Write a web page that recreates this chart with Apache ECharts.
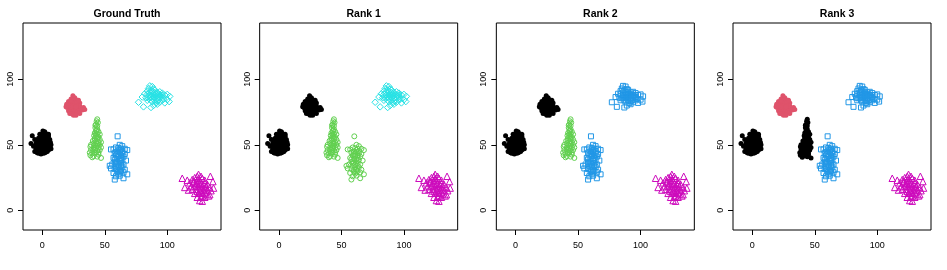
<!DOCTYPE html>
<html>
<head>
<meta charset="utf-8">
<style>html,body{margin:0;padding:0;background:#fff;}#c{width:947px;height:270px;}</style>
<script src="https://cdn.jsdelivr.net/npm/echarts@6/dist/echarts.min.js"></script>
</head>
<body>
<div id="c"></div>
<script>
// Panel titles and tick labels
var panelTitles = ['Ground Truth', 'Rank 1', 'Rank 2', 'Rank 3'];
var tickValues = [0, 50, 100];

// Point clouds (same positions in every panel)
var clusterA = [[-5,45],[-4,44],[-3,43.5],[-2,44],[-1,43],[0,44],[1,43.5],[2,44],[3,44.5],[4,45],[5,46],
  [-5,47],[-3,46],[-1,46],[1,46],[3,47],[5,48],[6,49],[-4,49],[-2,48],[0,48],[2,48.5],[4,49.5],
  [-5,51],[-3,50],[-1,50],[1,50.5],[3,51],[5,51],[6.5,52],[-4,53],[-2,52],[0,52.5],[2,53],[4,53.5],[6,54],
  [-3,55],[-1,55],[1,55.5],[3,56],[5,56.5],[-1,57.5],[1,58],[3,58.5],[0.5,60.5],[-8,57],[-9,51],[-7,49],[5,58],[-6,54],
  [7,50],[7,47],[-6,45],[2,60],[-2,58]];
var clusterB = [[24.5,87.5],[26,86],[23,85],[27,84.5],[25,84],[21,83],[23,82.5],[26,82],[28,82.5],[30,82],[19.5,81],
  [22,80.5],[24,80],[26,80],[28,80],[30,79.5],[20,78.5],[22,78],[24,78],[26,77.5],[28,78],[31,78],[33,78.5],
  [21,76],[23,76],[25,75.5],[27,76],[29,76],[32,76.5],[22,74],[24,73.5],[26,74],[28,74.5],[25,72.5],[23,79],[27,79],[21,80],
  [29,84],[19,79],[34,77],[30,74],[27,72.5]];
var clusterC = [[44,69.5],[43.5,68],[44.5,67],[43,65.5],[44,64.5],[42.5,63],[44,62],[43,60.5],[45,60],[42,59],[44,58.5],
  [46,58],[41.5,57],[43,56.5],[45,56],[42,55],[44,54.5],[46,54],[40.5,53],[43,52.5],[45,52],[47,52],[41,51],[39,50],
  [42,50],[44,49.5],[46,50],[38.5,48.5],[41,48],[43,47.5],[45,48],[47,48],[39,46],[42,46],[44,45.5],[46,46],[38,44],
  [40,43.5],[42,44],[45,44],[38.5,42],[41,41.5],[44,41],[47,40],[40,40.5],
  [43,58],[44,56],[42,53.5],[44,51],[43,49],[41,46.5],[43,44],[45,42.5],[42.5,65],[43.5,61]];
var clusterD = [[60.3,56.5],[62,50],[64,49],[59,48],[61,47.5],[63,47],[57,46.5],[66,47],[68,46],[55,46.5],[60,45],
  [62,44.5],[64,45],[58,44],[66,43],[59,42],[61,41.5],[63,42],[65,41],[57,40],[60,39.5],[62,39],[64,38.5],[67,38],
  [58,37],[60,36.5],[63,36],[65,35],[56,35],[54,34],[59,34],[61,33],[64,33],[55,32],[58,31.5],[62,31],[60,29.5],
  [63,30],[57,28.5],[61,28],[65,29],[59,26],[62,26.5],[58,23.5],[65,24.5],[68,27.5],[66,31],[61,43],[63,40],
  [62,46],[60,43],[62,37.5],[61,35],[63,34],[60,31],[62,29],[58,39],[64,43.5],[59,36]];
var clusterE = [[86,95],[88,94.5],[85,93],[87,92],[89,92.5],[84,91],[86,90],[88,90.5],[90,90],[92,90],[94,90.5],
  [96,89.5],[82,89],[84,88.5],[86,88],[88,88],[90,88],[92,87.5],[94,88],[98,88],[100,88.5],[80,86.5],[83,86],[86,86],
  [88,85.5],[90,86],[92,85.5],[94,86],[96,86.5],[102,87],[77,82.5],[84,84],[87,84],[90,84],[93,84],[96,84],[100,84.5],
  [81,79],[87,78.5],[91,82],[94,82.5],[98,82],[89,80],[92,81],[101.5,83],
  [89,89],[91,89],[93,88.5],[87,87],[89,86.5],[91,87],[95,87],[97,85],[85,85.5],[88,83],[92,83.5],[96,88],[90,92]];
var clusterF = [[125,27.5],[124,26],[127,26],[122,25],[128,24.5],[112,24.5],[116,23],[120,23.5],[124,23],[126,22.5],
  [130,23],[134.5,26],[136.5,22],[118,21],[121,21],[124,20.5],[127,20.5],[130,21],[132,20],[114,17.5],[119,18],
  [122,18.5],[125,18],[128,18],[131,18],[134,17.5],[137,17],[117,15.5],[120,16],[123,16],[126,15.5],[129,15.5],
  [132,15],[135,15],[122,13],[125,13],[128,13],[131,12.5],[134,12],[124,10],[127,10.5],[130,10],[126,7.5],[128,7],[133,11],
  [126,20],[129,19.5],[123,19.5],[127,17],[130,16.5],[124,14.5],[127,14],[130,13.5],[128,11],[125,24.5],[121,22]];
var clusters = [clusterA, clusterB, clusterC, clusterD, clusterE, clusterF];

// Label (style index 1..6) assigned to each cluster in each panel
var labelsGroundTruth = [1, 2, 3, 4, 5, 6];
var labelsRank1 = [1, 1, 3, 3, 5, 6];
var labelsRank2 = [1, 1, 3, 4, 4, 6];
var labelsRank3 = [1, 2, 1, 4, 4, 6];
var panelLabels = [labelsGroundTruth, labelsRank1, labelsRank2, labelsRank3];

var styles = {
  1: {symbol: 'circle', size: 5, color: '#000000', filled: true},
  2: {symbol: 'circle', size: 5, color: '#DF536B', filled: true},
  3: {symbol: 'circle', size: 5, color: '#61D04F', filled: false},
  4: {symbol: 'rect', size: 5, color: '#2297E6', filled: false},
  5: {symbol: 'diamond', size: 6.5, color: '#28E2E5', filled: false},
  6: {symbol: 'triangle', size: 6.5, color: '#CD0BBC', filled: false}
};

var font = "'Liberation Sans', Arial, Helvetica, sans-serif";
var gridLeft0 = 23, gridStep = 236.67, gridW = 198, gridTop = 23, gridH = 207;
var grids = [], xAxes = [], yAxes = [], titles = [], series = [];
for (var p = 0; p < 4; p++) {
  var left = gridLeft0 + gridStep * p;
  grids.push({left: left, top: gridTop, width: gridW, height: gridH, show: true,
    borderColor: '#000', borderWidth: 1, backgroundColor: 'transparent'});
  titles.push({text: panelTitles[p], left: left + gridW / 2, top: 4, textAlign: 'center',
    textStyle: {fontFamily: font, fontSize: 10.5, fontWeight: 'bold', color: '#000'}});
  xAxes.push({type: 'value', gridIndex: p, min: -15.4, max: 143, splitLine: {show: false},
    axisLine: {show: false, onZero: false},
    axisTick: {show: true, inside: false, length: 5, customValues: tickValues, lineStyle: {color: '#000'}},
    axisLabel: {customValues: tickValues, fontFamily: font, fontSize: 9, color: '#000', margin: 11}});
  yAxes.push({type: 'value', gridIndex: p, min: -15, max: 143, splitLine: {show: false},
    axisLine: {show: false, onZero: false},
    axisTick: {show: true, inside: false, length: 5, customValues: tickValues, lineStyle: {color: '#000'}},
    axisLabel: {customValues: tickValues, rotate: 90, fontFamily: font, fontSize: 9, color: '#000', margin: 8}});
  for (var c = 0; c < clusters.length; c++) {
    var st = styles[panelLabels[p][c]];
    series.push({type: 'scatter', xAxisIndex: p, yAxisIndex: p, data: clusters[c],
      symbol: st.symbol, symbolSize: st.size, silent: true, animation: false,
      itemStyle: st.filled ? {color: st.color, opacity: 1} :
        {color: 'rgba(0,0,0,0)', borderColor: st.color, borderWidth: 1, opacity: 1}});
  }
}

var chart = echarts.init(document.getElementById('c'), null, {renderer: 'canvas'});
chart.setOption({animation: false, backgroundColor: '#fff', title: titles, grid: grids,
  xAxis: xAxes, yAxis: yAxes, series: series});
</script>
</body>
</html>
